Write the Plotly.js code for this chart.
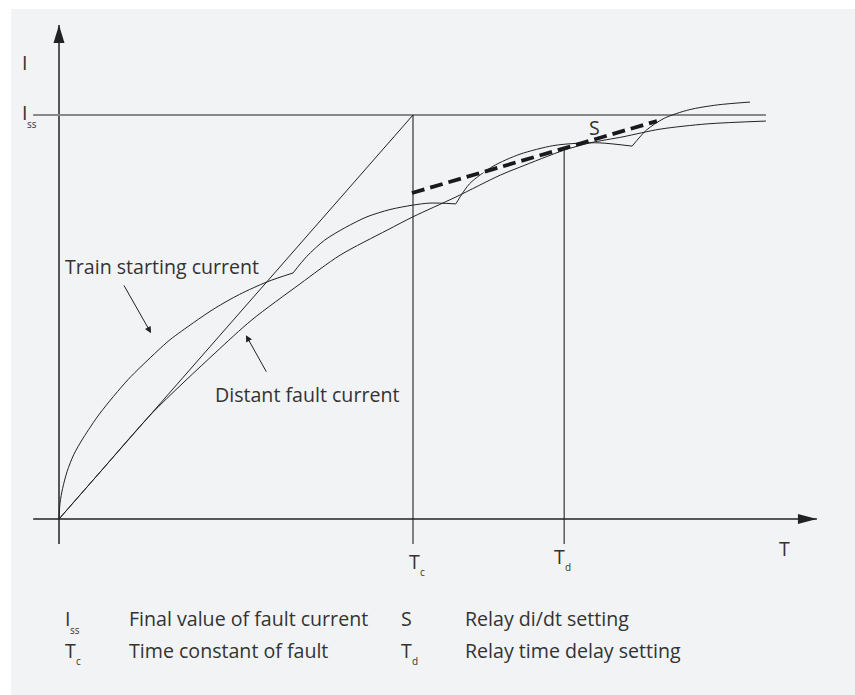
<!DOCTYPE html>
<html><head><meta charset="utf-8">
<script src="https://cdn.plot.ly/plotly-3.0.1.min.js"></script>
<style>body{margin:0;background:#fff}</style>
</head><body><div id="chart" style="width:855px;height:695px"></div>
<script>
// Units: time as T / Tc, current as I / Iss
const distantT = [0, 0.116, 0.263, 0.441, 0.545, 0.681, 0.794, 0.927, 1.0, 1.121, 1.246, 1.302, 1.427, 1.5, 1.593, 1.698, 1.831, 1.997];
const distantI = [0, 0.116, 0.262, 0.411, 0.493, 0.582, 0.653, 0.715, 0.748, 0.797, 0.851, 0.871, 0.913, 0.931, 0.946, 0.965, 0.978, 0.985];
// train starting current: four smooth pieces joined at sharp kinks
const trainT = [0, 0.003, 0.010, 0.023, 0.042, 0.068, 0.116, 0.195, 0.277, 0.314, 0.380, 0.441, 0.510, 0.588, 0.661,
                0.661, 0.700, 0.750, 0.810, 0.870, 0.935, 1.0, 1.048, 1.121,
                1.121, 1.160, 1.226, 1.302, 1.395, 1.463, 1.528, 1.619,
                1.619, 1.660, 1.710, 1.780, 1.860, 1.952];
const trainI = [0, 0.040, 0.075, 0.118, 0.160, 0.200, 0.262, 0.345, 0.415, 0.444, 0.486, 0.522, 0.556, 0.587, 0.609,
                0.609, 0.650, 0.690, 0.722, 0.748, 0.766, 0.777, 0.782, 0.780,
                0.780, 0.830, 0.873, 0.903, 0.924, 0.930, 0.931, 0.923,
                0.923, 0.963, 0.992, 1.013, 1.025, 1.032];
const trainPieces = [[0, 15], [15, 24], [24, 32], [32, 38]];
const tangentT = [0, 1];
const tangentI = [0, 1];
const issT = [-0.073, 1.997];
const issI = [1, 1];
const tcT = [1, 1];
const tcI = [-0.062, 1];
const tdT = [1.427, 1.427];
const tdI = [-0.062, 0.913];
const relayT = [0.997, 1.689];
const relayI = [0.807, 0.985];
const xAxisT = [-0.073, 2.141];
const xAxisI = [0, 0];
const yAxisT = [0, 0];
const yAxisI = [-0.062, 1.223];

const legendSymbols = ['I', 'S', 'T', 'T'];
const legendSubs = ['ss', '', 'c', 'd'];
const legendTexts = ['Final value of fault current', 'Relay di/dt setting', 'Time constant of fault', 'Relay time delay setting'];

const ink = '#222';
const txt = '#333';
const fam = '"Open Sans", "Noto Sans", sans-serif';
const FS = 19.6;

function line(x, y, color, width, dash, shape) {
  return {x: x, y: y, type: 'scatter', mode: 'lines', hoverinfo: 'skip',
          line: {color: color, width: width, dash: dash || 'solid', shape: shape || 'linear', smoothing: 0.8}};
}

const traces = [
  line(xAxisT, xAxisI, ink, 1.5),
  line(yAxisT, yAxisI, ink, 1.5),
  line(issT, issI, '#888', 1.8),
  line(tcT, tcI, ink, 1.1),
  line(tdT, tdI, ink, 1.1),
  line(tangentT, tangentI, ink, 1),
  line(distantT, distantI, ink, 1, 'solid', 'spline')
];
trainPieces.forEach(p => traces.push(line(trainT.slice(p[0], p[1]), trainI.slice(p[0], p[1]), ink, 1, 'solid', 'spline')));
traces.push(line(relayT, relayI, '#fff', 1.2));
traces.push(line(relayT, relayI, '#1a1a1a', 3.8, '13px,6px'));

function lab(x, y, text, size) {
  return {x: x, y: y, xref: 'x', yref: 'y', text: text, showarrow: false,
          xanchor: 'left', yanchor: 'middle',
          font: {family: fam, size: size || FS, color: txt}};
}

const annotations = [
  lab(-0.110, 1.129, 'I'),
  lab(-0.110, 1.006, 'I'),
  lab(-0.095, 0.9765, 'ss', 10),
  lab(0.983, -0.104, 'T'),
  lab(1.015, -0.130, 'c', 10),
  lab(1.393, -0.0916, 'T'),
  lab(1.424, -0.119, 'd', 10),
  lab(2.028, -0.073, 'T'),
  lab(1.492, 0.969, 'S'),
  lab(0.012, 0.625, 'Train starting current'),
  lab(0.436, 0.309, 'Distant fault current'),
  {x: 0.260, y: 0.460, ax: 0.181, ay: 0.582, xref: 'x', yref: 'y', axref: 'x', ayref: 'y',
   text: '', showarrow: true, arrowhead: 2, arrowsize: 1.3, arrowwidth: 1, arrowcolor: ink},
  {x: 0.528, y: 0.455, ax: 0.588, ay: 0.361, xref: 'x', yref: 'y', axref: 'x', ayref: 'y',
   text: '', showarrow: true, arrowhead: 2, arrowsize: 1.3, arrowwidth: 1, arrowcolor: ink}
];
// legend block
const colSym = [0.012, 0.961, 0.012, 0.961];
const colSub = [0.014, 0, 0.030, 0.030];
const colTxt = [0.193, 1.142, 0.193, 1.142];
const rowI = [-0.2475, -0.2475, -0.3255, -0.3255];
legendSymbols.forEach((s, k) => {
  annotations.push(lab(colSym[k], rowI[k], s));
  if (legendSubs[k]) annotations.push(lab(colSym[k] + colSub[k], rowI[k] - 0.027, legendSubs[k], 10));
  annotations.push(lab(colTxt[k], rowI[k], legendTexts[k]));
});

const shapes = [
  {type: 'rect', xref: 'paper', yref: 'paper', x0: 11/855, x1: 1, y0: 0, y1: 1 - 9/695,
   fillcolor: '#f2f3f5', line: {width: 0}, layer: 'below'},
  {type: 'path', xsizemode: 'pixel', ysizemode: 'pixel', xref: 'x', yref: 'y',
   xanchor: yAxisT[1], yanchor: yAxisI[1], path: 'M-5.5,-18 L5.5,-18 L0,0 Z',
   fillcolor: ink, line: {width: 0}},
  {type: 'path', xsizemode: 'pixel', ysizemode: 'pixel', xref: 'x', yref: 'y',
   xanchor: xAxisT[1], yanchor: xAxisI[1], path: 'M-19,-5 L-19,5 L0,0 Z',
   fillcolor: ink, line: {width: 0}}
];

const layout = {
  width: 855, height: 695,
  margin: {l: 0, r: 0, t: 0, b: 0},
  paper_bgcolor: '#fff', plot_bgcolor: 'rgba(0,0,0,0)',
  showlegend: false,
  xaxis: {visible: false, range: [-59/354, -59/354 + 855/354], fixedrange: true},
  yaxis: {visible: false, range: [(519-695)/404, 519/404], fixedrange: true},
  shapes: shapes,
  annotations: annotations
};

Plotly.newPlot('chart', traces, layout, {staticPlot: true});
</script></body></html>
